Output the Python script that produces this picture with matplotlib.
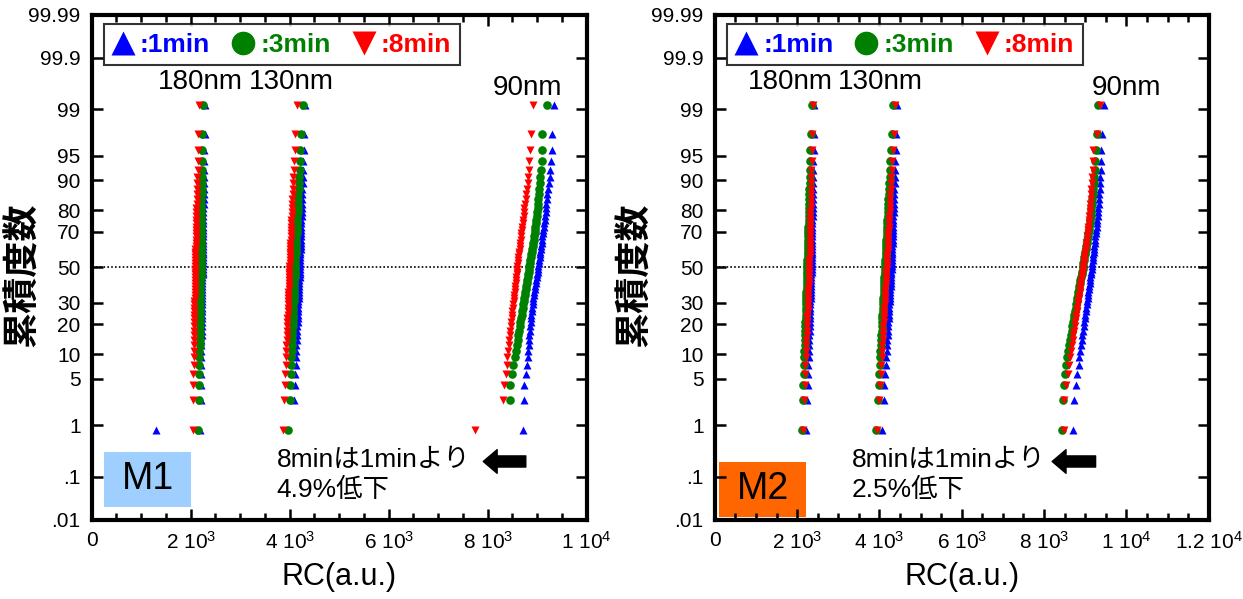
#!/usr/bin/env python3
from statistics import NormalDist

import numpy as np
import matplotlib
matplotlib.use("Agg")
import matplotlib.pyplot as plt
from matplotlib.lines import Line2D
from matplotlib.patches import Rectangle
from matplotlib.ticker import FixedLocator, MultipleLocator, NullLocator

# RC(a.u.) per chip, sorted, one list per node / anneal time.
# nan = value not visible on the plot
m1_180_1min = [2188, 2198, 2203, 2207, 2209, 2212, 2214, 2216, 2217, 2219, 2220, 2222, 2223, 2224, 2226,
               2227, 2228, 2229, 2230, 2231, 2232, 2233, 2234, 2235, 2236, 2237, 2238, 2239, 2240, 2241,
               2241, 2242, 2243, 2244, 2245, 2246, 2247, 2247, 2248, 2249, 2250, 2251, 2252, 2253, 2254,
               2255, 2256, 2257, 2258, 2260, 2261, 2262, 2264, 2266, 2268, 2270, 2272, 2276, 2280, 2289]
m1_180_3min = [2153, 2162, 2166, 2170, 2172, 2174, 2176, 2178, 2180, 2181, 2182, 2184, 2185, 2186, 2187,
               2188, 2189, 2190, 2191, 2192, 2193, 2194, 2195, 2195, 2196, 2197, 2198, 2199, 2200, 2201,
               2201, 2202, 2203, 2204, 2204, 2205, 2206, 2206, 2207, 2208, 2209, 2210, 2210, 2211, 2212,
               2213, 2214, 2215, 2216, 2217, 2218, 2219, 2221, 2222, 2224, 2226, 2228, 2230, 2234, 2242]
m1_180_8min = [2038, 2047, 2051, 2055, 2057, 2059, 2061, 2063, 2065, 2066, 2067, 2069, 2070, 2071, 2072,
               2073, 2074, 2075, 2076, 2077, 2078, 2079, 2080, 2080, 2081, 2082, 2083, 2084, 2085, 2086,
               2087, 2088, 2090, 2091, 2093, 2094, 2096, 2098, 2099, 2101, 2102, 2104, 2106, 2108, 2109,
               2111, 2113, 2115, 2117, 2119, 2122, 2125, 2127, 2131, 2134, 2138, 2143, 2148, 2157, 2172]

m1_130_1min = [1299, 4087, 4101, 4111, 4119, 4126, 4131, 4137, 4142, 4146, 4150, 4154, 4158, 4161, 4165,
               4168, 4171, 4174, 4177, 4180, 4183, 4186, 4188, 4191, 4194, 4196, 4199, 4202, 4204, 4207,
               4209, 4211, 4212, 4214, 4216, 4217, 4220, 4221, 4223, 4225, 4227, 4229, 4231, 4233, 4235,
               4237, 4239, 4241, 4244, 4246, 4249, 4252, 4255, 4259, 4263, 4267, 4272, 4279, 4288, 4306]
m1_130_3min = [3972, 3996, 4009, 4018, 4025, 4032, 4037, 4042, 4046, 4050, 4054, 4057, 4061, 4063, 4067,
               4070, 4072, 4075, 4078, 4081, 4083, 4086, 4088, 4090, 4093, 4095, 4098, 4100, 4103, 4105,
               4107, 4110, 4112, 4116, 4118, 4121, 4124, 4127, 4129, 4132, 4135, 4138, 4141, 4144, 4148,
               4151, 4155, 4158, 4162, 4166, 4170, 4175, 4180, 4185, 4191, 4198, 4207, 4217, 4231, 4259]
m1_130_8min = [3872, 3894, 3905, 3913, 3920, 3925, 3930, 3934, 3938, 3942, 3945, 3948, 3951, 3954, 3957,
               3959, 3962, 3964, 3967, 3969, 3971, 3974, 3976, 3978, 3980, 3982, 3984, 3987, 3989, 3991,
               3993, 3996, 3998, 4001, 4004, 4006, 4009, 4011, 4014, 4017, 4019, 4022, 4026, 4029, 4032,
               4035, 4038, 4041, 4045, 4049, 4053, 4057, 4062, 4068, 4073, 4080, 4088, 4097, 4112, 4138]

m1_90_1min = [8715, 8725, 8742, 8775, 8793, 8809, 8821, 8828, 8836, 8844, 8853, 8861, 8869, 8876, 8884,
              8891, 8899, 8906, 8913, 8924, 8933, 8943, 8952, 8961, 8971, 8980, 8989, 8999, 9008, 9017,
              9025, 9032, 9040, 9050, 9057, 9065, 9074, 9082, 9089, 9099, 9107, 9116, 9125, 9134, 9143,
              9151, 9161, 9169, 9178, 9187, 9197, 9208, 9220, 9234, 9249, 9266, 9283, 9291, 9300, 9340]
m1_90_3min = [np.nan, 8441, 8457, 8485, 8518, 8547, 8567, 8587, 8605, 8620, 8635, 8649, 8662, 8673, 8686,
              8697, 8708, 8719, 8730, 8741, 8750, 8761, 8770, 8778, 8789, 8798, 8807, 8818, 8827, 8836,
              8844, 8853, 8862, 8873, 8881, 8890, 8901, 8910, 8918, 8929, 8938, 8948, 8957, 8965, 8973,
              8981, 8990, 8998, 9007, 9016, 9026, 9036, 9045, 9053, 9062, 9075, 9090, 9098, 9104, 9198]
m1_90_8min = [7743, 8305, 8339, 8363, 8382, 8399, 8412, 8426, 8438, 8448, 8458, 8467, 8476, 8484, 8493,
              8500, 8508, 8515, 8522, 8530, 8536, 8543, 8549, 8555, 8563, 8569, 8575, 8582, 8588, 8594,
              8600, 8607, 8614, 8622, 8629, 8636, 8644, 8651, 8657, 8666, 8673, 8681, 8689, 8698, 8706,
              8715, 8725, 8733, 8743, 8753, 8765, 8777, 8790, 8805, 8817, 8829, 8842, 8855, 8869, 8915]

m2_180_1min = [2218, 2242, 2255, 2265, 2272, 2278, 2283, 2288, 2293, 2297, 2301, 2304, 2308, 2311, 2314,
               2317, 2320, 2323, 2325, 2328, 2331, 2333, 2336, 2338, 2341, 2343, 2345, 2348, 2351, 2353,
               2355, 2356, 2357, 2358, 2359, 2360, 2361, 2362, 2363, 2365, 2366, 2367, 2368, 2370, 2371,
               2372, 2374, 2375, 2377, 2378, 2380, 2382, 2384, 2386, 2389, 2391, 2395, 2399, 2405, 2416]
m2_180_3min = [2112, 2136, 2149, 2159, 2166, 2172, 2177, 2182, 2187, 2191, 2195, 2198, 2202, 2205, 2208,
               2211, 2214, 2217, 2219, 2222, 2225, 2227, 2230, 2232, 2235, 2237, 2239, 2242, 2245, 2247,
               2249, 2251, 2252, 2255, 2256, 2258, 2260, 2262, 2264, 2266, 2268, 2270, 2272, 2274, 2277,
               2279, 2281, 2284, 2286, 2289, 2292, 2295, 2299, 2303, 2307, 2311, 2317, 2324, 2334, 2353]
m2_180_8min = [2137, 2166, 2181, 2192, 2201, 2208, 2214, 2220, 2225, 2230, 2235, 2239, 2243, 2246, 2250,
               2253, 2257, 2260, 2263, 2267, 2270, 2273, 2276, 2278, 2282, 2284, 2287, 2290, 2293, 2296,
               2298, 2299, 2300, 2302, 2303, 2305, 2307, 2308, 2309, 2311, 2312, 2314, 2316, 2317, 2319,
               2321, 2323, 2325, 2327, 2329, 2331, 2333, 2336, 2339, 2342, 2346, 2350, 2356, 2364, 2378]

m2_130_1min = [4057, 4100, 4123, 4139, 4153, 4164, 4173, 4182, 4190, 4197, 4204, 4210, 4216, 4221, 4227,
               4232, 4237, 4242, 4247, 4253, 4257, 4262, 4266, 4270, 4275, 4279, 4283, 4288, 4292, 4296,
               4299, 4301, 4304, 4307, 4309, 4311, 4314, 4316, 4319, 4321, 4324, 4327, 4329, 4332, 4335,
               4338, 4341, 4344, 4348, 4351, 4355, 4359, 4364, 4369, 4374, 4380, 4387, 4397, 4410, 4434]
m2_130_3min = [3919, 3958, 3979, 3993, 4005, 4015, 4023, 4031, 4039, 4045, 4051, 4057, 4062, 4067, 4072,
               4077, 4081, 4086, 4090, 4095, 4099, 4103, 4107, 4111, 4115, 4119, 4122, 4127, 4131, 4134,
               4138, 4141, 4144, 4149, 4152, 4155, 4160, 4163, 4166, 4170, 4174, 4178, 4182, 4186, 4191,
               4195, 4200, 4204, 4209, 4214, 4220, 4226, 4233, 4240, 4248, 4257, 4268, 4281, 4301, 4337]
m2_130_8min = [3950, 3991, 4013, 4028, 4040, 4051, 4059, 4068, 4075, 4082, 4089, 4094, 4100, 4105, 4110,
               4115, 4120, 4125, 4129, 4134, 4138, 4143, 4147, 4150, 4155, 4159, 4163, 4167, 4171, 4175,
               4179, 4182, 4185, 4190, 4193, 4196, 4201, 4204, 4207, 4211, 4215, 4219, 4223, 4227, 4232,
               4236, 4241, 4245, 4250, 4255, 4261, 4267, 4274, 4281, 4289, 4298, 4309, 4322, 4342, 4378]

m2_90_1min = [8700, 8716, 8780, 8812, 8845, 8859, 8879, 8899, 8917, 8933, 8949, 8962, 8976, 8987, 9000,
              9012, 9023, 9034, 9045, 9057, 9066, 9077, 9086, 9095, 9106, 9115, 9124, 9135, 9144, 9153,
              9162, 9170, 9178, 9188, 9196, 9204, 9214, 9222, 9230, 9240, 9248, 9258, 9266, 9274, 9282,
              9290, 9299, 9307, 9315, 9324, 9333, 9341, 9351, 9360, 9368, 9375, 9380, 9385, 9399, 9455]
m2_90_3min = [8434, 8458, 8490, 8514, 8534, 8554, 8580, 8606, 8630, 8650, 8670, 8688, 8705, 8720, 8737,
              8751, 8766, 8780, 8795, 8809, 8821, 8836, 8847, 8859, 8873, 8885, 8896, 8911, 8923, 8934,
              8945, 8956, 8967, 8980, 8990, 9001, 9014, 9025, 9035, 9049, 9059, 9072, 9084, 9095, 9106,
              9117, 9129, 9139, 9150, 9161, 9173, 9184, 9196, 9208, 9220, 9232, 9242, 9260, 9290, 9317]
m2_90_8min = [8474, 8490, 8538, 8570, 8609, 8636, 8658, 8679, 8698, 8714, 8730, 8745, 8759, 8770, 8784,
              8796, 8808, 8820, 8831, 8843, 8853, 8864, 8874, 8883, 8895, 8904, 8914, 8925, 8935, 8944,
              8953, 8962, 8971, 8981, 8990, 8998, 9009, 9018, 9026, 9037, 9046, 9056, 9065, 9073, 9081,
              9089, 9098, 9106, 9114, 9122, 9131, 9139, 9148, 9156, 9165, 9177, 9189, 9199, 9279, 9358]

TIMES = [":1min", ":3min", ":8min"]
NODES = ["180nm", "130nm", "90nm"]
PROB_TICKS = [0.01, 0.1, 1, 5, 10, 20, 30, 50, 70, 80, 90, 95, 99, 99.9, 99.99]
PROB_LABELS = [".01", ".1", "1", "5", "10", "20", "30", "50", "70", "80", "90", "95", "99", "99.9", "99.99"]
X_TICKS_M1 = [0, 2000, 4000, 6000, 8000, 10000]
X_LABELS_M1 = ["0", "2 10$^{3}$", "4 10$^{3}$", "6 10$^{3}$", "8 10$^{3}$", "1 10$^{4}$"]
X_TICKS_M2 = [0, 2000, 4000, 6000, 8000, 10000, 12000]
X_LABELS_M2 = ["0", "2 10$^{3}$", "4 10$^{3}$", "6 10$^{3}$", "8 10$^{3}$", "1 10$^{4}$", "1.2 10$^{4}$"]
NOTE_M1 = "8minは1minより\n4.9%低下"
NOTE_M2 = "8minは1minより\n2.5%低下"

MARKERS = ["^", "o", "v"]
COLORS = ["#0000ff", "#008000", "#ff0000"]

_nd = NormalDist()
_ppf = np.vectorize(lambda p: _nd.inv_cdf(p), otypes=[float])
_cdf = np.vectorize(lambda z: _nd.cdf(z), otypes=[float])


def prob_forward(pct):
    p = np.clip(np.asarray(pct, dtype=float) / 100.0, 1e-9, 1 - 1e-9)
    return _ppf(p)


def prob_inverse(z):
    return _cdf(np.asarray(z, dtype=float)) * 100.0


def rank_percent(n):
    # plotting position of the i-th smallest of n
    return (np.arange(1, n + 1) - 0.5) / n * 100.0


def draw_panel(ax, groups, xmax, xticks, xlabels, node_xy, tag, tag_color, tag_box,
               note, note_x, arrow_x, ylabel_x):
    # blue first, red on top
    for k in range(3):
        for vals in groups:
            rc = np.asarray(vals[k], dtype=float)
            ax.plot(rc, rank_percent(len(rc)), ls="none", marker=MARKERS[k], ms=6.2,
                    color=COLORS[k], mec="none", zorder=3 + k)

    ax.set_yscale("function", functions=(prob_forward, prob_inverse))
    ax.set_ylim(0.01, 99.99)
    ax.set_xlim(0, xmax)
    ax.axhline(50, color="black", lw=1.2, ls=(0, (1, 1.3)), zorder=2)

    ax.yaxis.set_major_locator(FixedLocator(PROB_TICKS))
    ax.set_yticklabels(PROB_LABELS)
    ax.yaxis.set_minor_locator(NullLocator())
    ax.xaxis.set_major_locator(FixedLocator(xticks))
    ax.set_xticklabels(xlabels)
    ax.xaxis.set_minor_locator(MultipleLocator(500))

    ax.tick_params(which="both", direction="in", top=True, right=True, width=1.8)
    ax.tick_params(which="major", length=8)
    ax.tick_params(which="minor", length=5)
    ax.tick_params(axis="y", pad=8, labelsize=15)
    ax.tick_params(axis="x", pad=8, labelsize=15)
    for sp in ax.spines.values():
        sp.set_linewidth(3)

    ax.set_xlabel("RC(a.u.)", fontsize=22)
    ax.xaxis.set_label_coords(0.5, -0.085)
    ax.set_ylabel("累積度数", fontsize=26, fontweight="bold", family=["Noto Sans CJK JP"])
    ax.yaxis.set_label_coords(ylabel_x, 0.485)

    for name, (nx, ny) in zip(NODES, node_xy):
        ax.text(nx, ny, name, fontsize=20, ha="center", va="center")

    handles = [Line2D([], [], ls="none", marker=m, ms=17, color=c, mec="none")
               for m, c in zip(MARKERS, COLORS)]
    leg = ax.legend(handles, TIMES, ncol=3, loc="upper left", bbox_to_anchor=(0.024, 0.982),
                    borderaxespad=0, frameon=True, fancybox=False, edgecolor="black",
                    prop={"size": 19, "weight": "bold"}, handlelength=0.8, handletextpad=0.25,
                    columnspacing=0.85, borderpad=0.33)
    leg.get_frame().set_linewidth(1.5)
    for txt, c in zip(leg.get_texts(), COLORS):
        txt.set_color(c)

    x0, y0, w, h = tag_box
    ax.add_patch(Rectangle((x0, y0), w, h, transform=ax.transAxes, facecolor=tag_color,
                           edgecolor="none", zorder=1))
    ax.text(x0 + w / 2, y0 + h / 2, tag, transform=ax.transAxes, fontsize=27,
            ha="center", va="center", zorder=2)

    ax.text(note_x, 0.088, note, transform=ax.transAxes, fontsize=19, ha="left", va="center",
            linespacing=1.3)
    ax.annotate("", xy=(arrow_x[0], 0.115), xytext=(arrow_x[1], 0.115),
                xycoords="axes fraction", textcoords="axes fraction",
                arrowprops=dict(arrowstyle="simple,head_length=10,head_width=17,tail_width=8",
                                mutation_scale=1, color="black", shrinkA=0, shrinkB=0))


def main():
    plt.rcParams["font.family"] = ["Liberation Sans", "Noto Sans CJK JP"]
    plt.rcParams["mathtext.fontset"] = "custom"
    plt.rcParams["mathtext.rm"] = "Liberation Sans"
    plt.rcParams["mathtext.default"] = "rm"
    plt.rcParams["xtick.labelsize"] = 15
    plt.rcParams["ytick.labelsize"] = 15

    fig = plt.figure(figsize=(12.43, 5.99), dpi=100)
    ax1 = fig.add_axes([91.7 / 1243, 79.5 / 599, 495 / 1243, 504.5 / 599])
    ax2 = fig.add_axes([714.8 / 1243, 79.5 / 599, 493.9 / 1243, 504.5 / 599])

    groups_m1 = [(m1_180_1min, m1_180_3min, m1_180_8min),
                 (m1_130_1min, m1_130_3min, m1_130_8min),
                 (m1_90_1min, m1_90_3min, m1_90_8min)]
    groups_m2 = [(m2_180_1min, m2_180_3min, m2_180_8min),
                 (m2_130_1min, m2_130_3min, m2_130_8min),
                 (m2_90_1min, m2_90_3min, m2_90_8min)]

    draw_panel(ax1, groups_m1, 10000, X_TICKS_M1, X_LABELS_M1,
               [(2188, 99.68), (4026, 99.68), (8813, 99.59)],
               "M1", "#9fcfff", (0.025, 0.025, 0.176, 0.109),
               NOTE_M1, 0.374, (0.791, 0.877), -0.102)
    draw_panel(ax2, groups_m2, 12000, X_TICKS_M2, X_LABELS_M2,
               [(1827, 99.68), (4014, 99.68), (10000, 99.59)],
               "M2", "#ff6600", (0.0085, 0.005, 0.1765, 0.109),
               NOTE_M2, 0.277, (0.683, 0.771), -0.125)

    fig.savefig("out.png", dpi=100, facecolor="white")


if __name__ == "__main__":
    main()
